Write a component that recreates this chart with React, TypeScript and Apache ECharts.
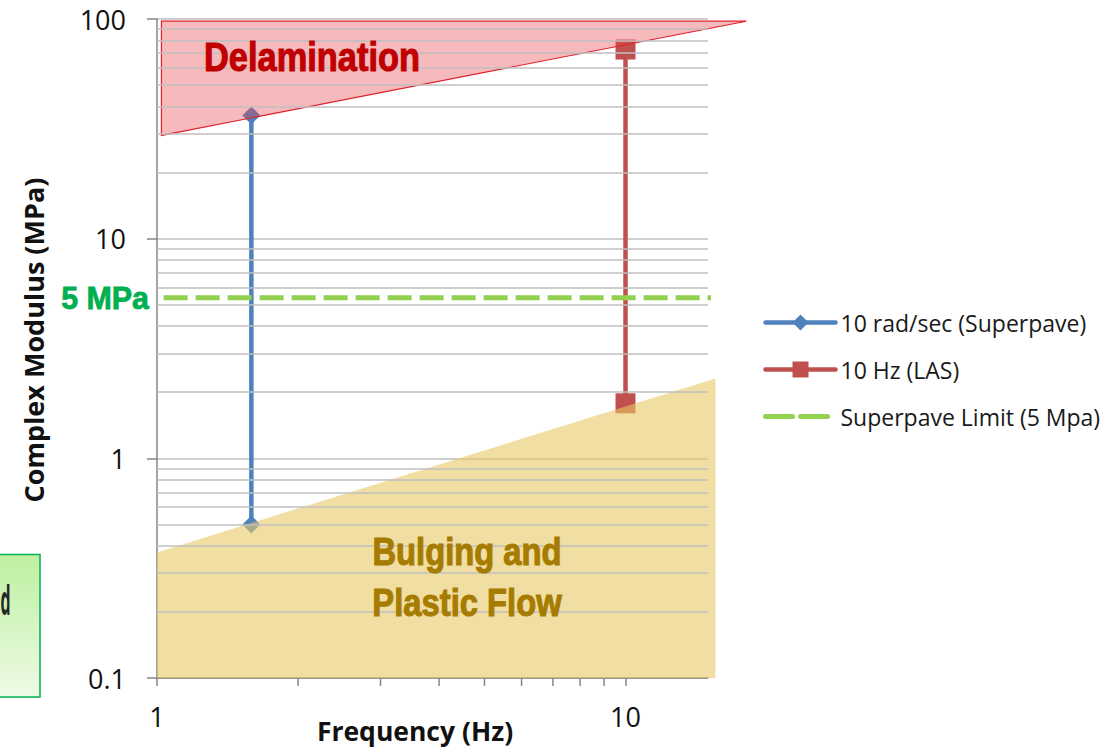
import React, { useEffect, useRef } from 'react';
import * as echarts from 'echarts';

// ---- Data ----
const superpaveFreq = [1.59, 1.59];
const superpaveModulus = [36.4, 0.5];
const lasFreq = [10, 10];
const lasModulus = [72.6, 1.78];
const limitFreq = [1.033, 15.49];
const limitModulus = [5.38, 5.38];

// zones (frequency, modulus)
const delaminationZone = [
  [1.022, 97.7],
  [18.1, 97.7],
  [1.022, 29.5],
];
const bulgingZone = [
  [1, 0.373],
  [15.56, 2.31],
  [15.56, 0.1],
  [1, 0.1],
];

const xMin = 1;
const xMax = 15;
const yMin = 0.1;
const yMax = 100;
const xMajorLabels = [1, 10];
const xMinorTicks = [2, 3, 4, 5, 6, 7, 8, 9];
const yMinorGrid = [
  0.2, 0.3, 0.4, 0.5, 0.6, 0.7, 0.8, 0.9,
  2, 3, 4, 5, 6, 7, 8, 9,
  20, 30, 40, 50, 60, 70, 80, 90,
];

const seriesNames = ['10 rad/sec (Superpave)', '10 Hz (LAS)', 'Superpave Limit (5 Mpa)'];

const NARROW = '"Liberation Sans", Arial, sans-serif';
const SANS = '"Open Sans", "Noto Sans", sans-serif';
const GRID_COLOR = '#BFBFBF';
const AXIS_COLOR = '#868686';

function zip(a: number[], b: number[]) {
  return a.map((v, i) => [v, b[i]]);
}

function polygonSeries(name: string, pts: number[][], fill: string, stroke: string, lineWidth: number, z: number) {
  return {
    type: 'custom',
    name,
    silent: true,
    clip: false,
    z,
    data: [pts[0]],
    renderItem: (_params: any, api: any) => ({
      type: 'polygon',
      shape: { points: pts.map((p) => api.coord(p)) },
      style: { fill, stroke, lineWidth },
    }),
  };
}

export default function App() {
  const ref = useRef<HTMLDivElement>(null);

  useEffect(() => {
    const chart = echarts.init(ref.current!, null, { renderer: 'svg' });
    const option: any = {
      animation: false,
      grid: { left: 157, top: 19, width: 551, height: 659, containLabel: false },
      tooltip: { show: false },
      legend: {
        orient: 'vertical',
        left: 763,
        top: 311,
        padding: 0,
        itemWidth: 70,
        itemHeight: 20,
        itemGap: 24,
        selectedMode: false,
        lineStyle: { width: 4.5, cap: 'round' },
        textStyle: { fontFamily: SANS, fontSize: 23, color: '#1a1a1a', lineHeight: 20 },
        data: [
          { name: seriesNames[0] },
          { name: seriesNames[1] },
          {
            name: seriesNames[2],
            lineStyle: { type: [27, 8], width: 5, cap: 'round' },
            itemStyle: { opacity: 0 },
          },
        ],
      },
      xAxis: {
        type: 'log',
        logBase: 10,
        min: xMin,
        max: xMax,
        axisLine: { show: true, lineStyle: { color: AXIS_COLOR, width: 1.5 } },
        axisTick: { show: true, inside: false, length: 8, lineStyle: { color: AXIS_COLOR, width: 1.5 } },
        splitLine: { show: false },
        minorTick: { show: false },
        axisLabel: {
          margin: 25,
          fontFamily: SANS,
          fontSize: 27,
          color: '#111',
          showMaxLabel: false,
          formatter: (v: number) => {
            const hit = xMajorLabels.find((m) => Math.abs(m - v) < 1e-6 * m);
            return hit !== undefined ? String(hit) : '';
          },
        },
      },
      yAxis: {
        type: 'log',
        logBase: 10,
        min: yMin,
        max: yMax,
        axisLine: { show: true, lineStyle: { color: AXIS_COLOR, width: 1.5 } },
        axisTick: { show: true, inside: false, length: 10, lineStyle: { color: AXIS_COLOR, width: 1.5 } },
        splitLine: { show: true, lineStyle: { color: GRID_COLOR, width: 1.5 } },
        axisLabel: {
          margin: 31,
          fontFamily: SANS,
          fontSize: 27,
          color: '#111',
          formatter: (v: number) => String(Number(v.toPrecision(3))),
        },
      },
      series: [
        {
          type: 'line',
          name: 'minorGrid',
          silent: true,
          z: 1,
          symbol: 'none',
          data: [[xMin, yMin]],
          lineStyle: { width: 0 },
          markLine: {
            silent: true,
            symbol: ['none', 'none'],
            label: { show: false },
            animation: false,
            emphasis: { disabled: true },
            lineStyle: { color: GRID_COLOR, width: 1.5, type: 'solid' },
            data: yMinorGrid.map((v) => ({ yAxis: v })),
          },
        },
        {
          type: 'custom',
          name: 'xMinorTicks',
          silent: true,
          clip: false,
          z: 3,
          data: xMinorTicks.map((v) => [v, yMin]),
          renderItem: (_params: any, api: any) => {
            const p = api.coord([api.value(0), api.value(1)]);
            return {
              type: 'line',
              shape: { x1: p[0], y1: p[1], x2: p[0], y2: p[1] + 8 },
              style: { stroke: AXIS_COLOR, lineWidth: 1.5 },
            };
          },
        },
        {
          type: 'line',
          name: seriesNames[0],
          z: 2,
          data: zip(superpaveFreq, superpaveModulus),
          symbol: 'diamond',
          symbolSize: 18,
          showSymbol: true,
          color: '#4F81BD',
          itemStyle: { color: '#4F81BD' },
          lineStyle: { color: '#4F81BD', width: 4.5 },
        },
        {
          type: 'line',
          name: seriesNames[1],
          z: 2,
          data: zip(lasFreq, lasModulus),
          symbol: 'rect',
          symbolSize: 20,
          showSymbol: true,
          color: '#C0504D',
          itemStyle: { color: '#C0504D' },
          lineStyle: { color: '#C0504D', width: 4.5 },
        },
        {
          type: 'line',
          name: seriesNames[2],
          z: 2,
          clip: false,
          data: zip(limitFreq, limitModulus),
          symbol: 'none',
          color: '#92D050',
          lineStyle: { color: '#92D050', width: 5, type: [24, 8] },
        },
        polygonSeries('Delamination zone', delaminationZone, 'rgba(232,70,80,0.38)', '#E0202A', 1.2, 4),
        polygonSeries('Bulging zone', bulgingZone, 'rgba(232,200,100,0.6)', 'none', 0, 4),
      ],
      graphic: [
        {
          type: 'text',
          x: 312,
          y: 57,
          z: 100,
          scaleX: 0.86,
          style: {
            text: 'Delamination',
            fill: '#C00000',
            stroke: '#C00000',
            lineWidth: 1.1,
            fontFamily: NARROW,
            fontWeight: 'bold',
            fontSize: 40,
            align: 'center',
            verticalAlign: 'middle',
          },
        },
        {
          type: 'text',
          x: 467,
          y: 577,
          z: 100,
          scaleX: 0.84,
          style: {
            text: 'Bulging and\nPlastic Flow',
            fill: '#A67C00',
            stroke: '#A67C00',
            lineWidth: 1.1,
            fontFamily: NARROW,
            fontWeight: 'bold',
            fontSize: 39,
            lineHeight: 51,
            align: 'center',
            verticalAlign: 'middle',
          },
        },
        {
          type: 'text',
          x: 149,
          y: 298,
          z: 100,
          scaleX: 0.95,
          style: {
            text: '5 MPa',
            fill: '#00B050',
            stroke: '#00B050',
            lineWidth: 0.8,
            fontFamily: NARROW,
            fontWeight: 'bold',
            fontSize: 32,
            align: 'right',
            verticalAlign: 'middle',
          },
        },
        {
          type: 'text',
          x: 33,
          y: 340,
          rotation: Math.PI / 2,
          z: 100,
          style: {
            text: 'Complex Modulus (MPa)',
            fill: '#111',
            fontFamily: SANS,
            fontWeight: 'bold',
            fontSize: 27,
            align: 'center',
            verticalAlign: 'middle',
          },
        },
        {
          type: 'text',
          x: 415,
          y: 731,
          z: 100,
          style: {
            text: 'Frequency (Hz)',
            fill: '#111',
            fontFamily: SANS,
            fontWeight: 'bold',
            fontSize: 26.5,
            align: 'center',
            verticalAlign: 'middle',
          },
        },
        {
          type: 'rect',
          z: 100,
          shape: { x: -2, y: 554.5, width: 42, height: 142.5 },
          style: {
            fill: new echarts.graphic.LinearGradient(0, 0, 0, 1, [
              { offset: 0, color: '#BDF0A0' },
              { offset: 1, color: '#EEFAE6' },
            ]),
            stroke: '#00B050',
            lineWidth: 1.5,
          },
        },
        {
          type: 'text',
          x: 0.5,
          y: 598,
          z: 101,
          scaleX: 0.38,
          style: {
            text: 'd',
            fill: '#262626',
            fontFamily: SANS,
            fontWeight: 'bold',
            fontSize: 42,
            align: 'left',
            verticalAlign: 'middle',
          },
        },
      ],
    };
    chart.setOption(option);
    return () => chart.dispose();
  }, []);

  return (
    <div
      ref={ref}
      style={{ position: 'absolute', left: 0, top: 0, width: 1117, height: 749 }}
    />
  );
}
